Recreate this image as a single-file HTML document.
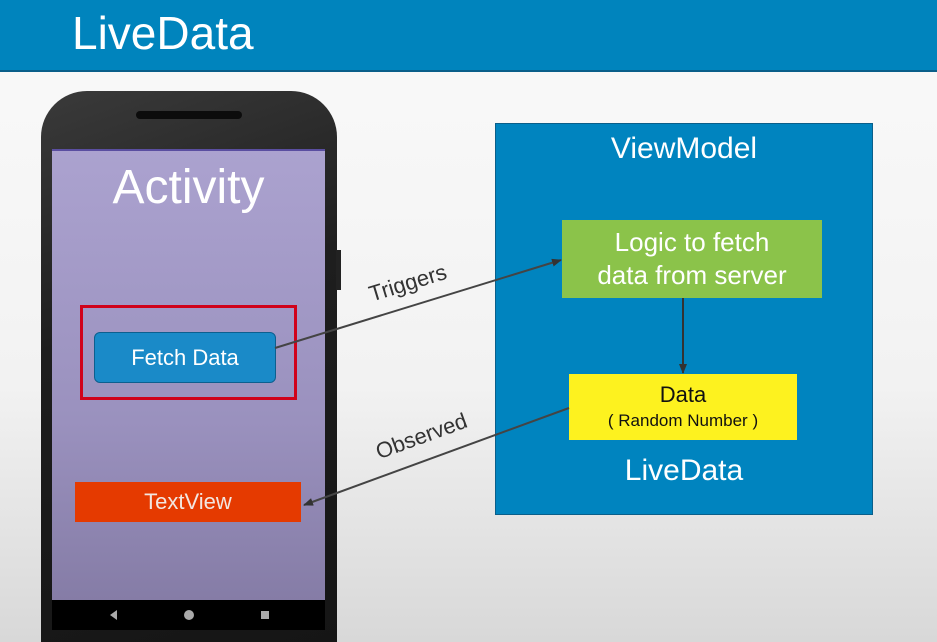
<!DOCTYPE html>
<html style="overflow:hidden;width:937px;height:642px"><head><meta charset="utf-8"><style>
html,body{margin:0;width:937px;height:642px;overflow:hidden}
body{font-family:"Liberation Sans",sans-serif;background:linear-gradient(#fafafa 0%,#f2f2f2 60%,#d8d8d8 100%);position:relative}
.a{position:absolute}
</style></head><body>
<div class="a" style="left:0;top:0;width:937px;height:70px;background:#0084bd;border-bottom:2px solid #0a5f8a"></div>
<div class="a" style="left:72px;top:6px;color:#fff;font-size:46px">LiveData</div>
<!-- phone -->
<div class="a" style="left:41px;top:91px;width:296px;height:551px;border-radius:46px 46px 0 0;background:linear-gradient(160deg,#3a3a3a,#1e1e1e 40%,#151515)"></div>
<div class="a" style="left:136px;top:111px;width:106px;height:8px;border-radius:4px;background:#0c0c0c"></div>
<div class="a" style="left:336px;top:250px;width:5px;height:40px;background:#222"></div>
<div class="a" style="left:52px;top:149px;width:273px;height:451px;background:linear-gradient(#aba2cf,#9a91be 60%,#857ca6);border-top:2px solid #5a4ea0"></div>
<div class="a" style="left:52px;top:600px;width:273px;height:30px;background:#000"></div>
<div class="a" style="left:110px;top:610px;width:0;height:0;border-top:5px solid transparent;border-bottom:5px solid transparent;border-right:7px solid #aaa"></div>
<div class="a" style="left:184px;top:610px;width:10px;height:10px;border-radius:50%;background:#aaa"></div>
<div class="a" style="left:261px;top:611px;width:8px;height:8px;background:#aaa"></div>
<div class="a" style="left:52px;top:160px;width:273px;text-align:center;color:#fff;font-size:48px">Activity</div>
<div class="a" style="left:80px;top:305px;width:211px;height:89px;border:3px solid #d0021b"></div>
<div class="a" style="left:94px;top:332px;width:180px;height:49px;border-radius:6px;background:#1a8ac8;border:1px solid #0d5f8f;color:#fff;font-size:22px;line-height:49px;text-align:center">Fetch Data</div>
<div class="a" style="left:75px;top:482px;width:226px;height:40px;background:#e53a00;color:#f2e6e0;font-size:22px;line-height:40px;text-align:center">TextView</div>
<!-- viewmodel -->
<div class="a" style="left:495px;top:123px;width:376px;height:390px;background:#0084bf;border:1px solid #0a5f8a"></div>
<div class="a" style="left:495px;top:132px;width:378px;text-align:center;color:#fff;font-size:30px">ViewModel</div>
<div class="a" style="left:562px;top:220px;width:260px;height:78px;background:#8bc34a;color:#fff;font-size:26px;line-height:33px;text-align:center;padding-top:6px;box-sizing:border-box">Logic to fetch<br>data from server</div>
<div class="a" style="left:569px;top:374px;width:228px;height:66px;background:#fdf21f;text-align:center;color:#111"><div style="font-size:22px;margin-top:8px">Data</div><div style="font-size:17px;margin-top:3px">( Random Number )</div></div>
<div class="a" style="left:495px;top:454px;width:378px;text-align:center;color:#fff;font-size:30px">LiveData</div>
<svg class="a" style="left:0;top:0" width="937" height="642">
<defs><marker id="m" markerWidth="10" markerHeight="8" refX="9" refY="4" orient="auto" markerUnits="userSpaceOnUse"><path d="M0,0L10,4L0,8z" fill="#333"/></marker></defs>
<line x1="275" y1="348" x2="561" y2="260" stroke="#444" stroke-width="2" marker-end="url(#m)"/>
<line x1="683" y1="298" x2="683" y2="373" stroke="#333" stroke-width="2" marker-end="url(#m)"/>
<line x1="569" y1="408" x2="304" y2="505" stroke="#444" stroke-width="2" marker-end="url(#m)"/>
<text x="410" y="290" font-size="22" fill="#333" transform="rotate(-17 410 290)" text-anchor="middle">Triggers</text>
<text x="424" y="443" font-size="22" fill="#333" transform="rotate(-20 424 443)" text-anchor="middle">Observed</text>
</svg>
</body></html>
